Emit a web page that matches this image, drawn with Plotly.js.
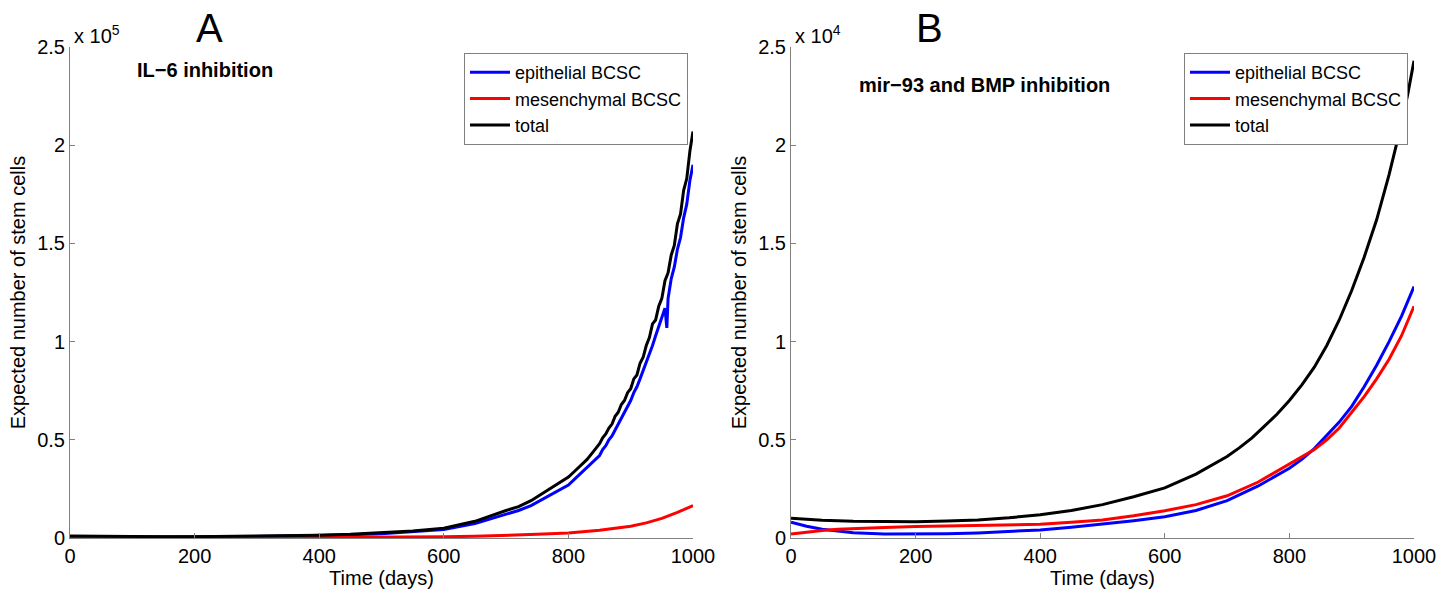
<!DOCTYPE html>
<html>
<head>
<meta charset="utf-8">
<script src="https://cdn.plot.ly/plotly-3.0.1.min.js"></script>
<style>html,body{margin:0;padding:0;background:#fff;}#chart{width:1455px;height:592px;}</style>
</head>
<body>
<div id="chart"></div>
<script>
// ---- Panel A: IL-6 inhibition (values in units of 1e5 cells) ----
const daysA_total = [0,50,100,150,200,250,300,350,400,450,500,550,600,650,700,720,740,760,780,800,810,820,830,840,850,855,860,865,870,875,880,885,890,895,900,905,910,915,920,925,930,935,940,945,950,955,960,965,970,975,980,985,990,995,1000];
const totalA = [0.010,0.008,0.007,0.007,0.007,0.008,0.009,0.011,0.014,0.019,0.026,0.036,0.050,0.085,0.14,0.16,0.19,0.23,0.27,0.31,0.34,0.37,0.40,0.44,0.48,0.51,0.53,0.56,0.58,0.62,0.64,0.68,0.70,0.74,0.76,0.81,0.83,0.89,0.92,0.98,1.02,1.09,1.11,1.18,1.22,1.31,1.35,1.44,1.49,1.60,1.65,1.77,1.83,1.97,2.07];
const daysA_epi = [0,50,100,150,200,250,300,350,400,450,500,550,600,650,700,720,740,760,780,800,810,820,830,840,850,855,860,865,870,875,880,885,890,895,900,905,910,915,920,925,930,935,940,945,950,955,958,960,965,970,975,980,985,990,995,1000];
const epiA = [0.008,0.006,0.006,0.006,0.006,0.007,0.008,0.010,0.012,0.016,0.022,0.031,0.043,0.074,0.12,0.14,0.165,0.20,0.235,0.27,0.30,0.33,0.355,0.39,0.42,0.45,0.47,0.50,0.52,0.55,0.58,0.61,0.64,0.67,0.70,0.74,0.77,0.81,0.85,0.89,0.94,0.98,1.03,1.08,1.12,1.17,1.07,1.22,1.32,1.38,1.47,1.53,1.63,1.70,1.82,1.90];
const daysA_mes = [0,100,200,300,400,500,600,650,700,750,800,850,900,925,950,975,1000];
const mesA = [0.002,0.001,0.001,0.001,0.002,0.003,0.006,0.009,0.013,0.019,0.026,0.040,0.060,0.077,0.100,0.130,0.165];

// ---- Panel B: mir-93 and BMP inhibition (values in units of 1e4 cells) ----
const daysB_total = [0,25,50,100,150,200,250,300,350,400,450,500,550,600,650,700,720,740,760,780,800,820,840,860,880,900,920,940,960,970,980,990,1000];
const totalB = [0.100,0.095,0.090,0.085,0.083,0.083,0.086,0.092,0.103,0.118,0.140,0.170,0.210,0.255,0.325,0.415,0.46,0.51,0.57,0.63,0.70,0.78,0.87,0.98,1.11,1.26,1.43,1.62,1.85,1.98,2.11,2.26,2.43];
const daysB_pop = [0,25,50,75,100,150,200,250,300,350,400,450,500,550,600,650,700,750,800,820,840,860,880,900,920,940,960,980,1000];
const epiB = [0.080,0.060,0.045,0.035,0.027,0.020,0.020,0.022,0.026,0.032,0.041,0.055,0.070,0.088,0.108,0.140,0.190,0.265,0.355,0.40,0.455,0.52,0.59,0.67,0.77,0.88,1.00,1.13,1.28];
const mesB = [0.020,0.030,0.038,0.044,0.048,0.054,0.058,0.061,0.064,0.067,0.070,0.080,0.092,0.113,0.139,0.170,0.215,0.285,0.375,0.41,0.45,0.50,0.56,0.64,0.72,0.81,0.91,1.03,1.18];

const seriesNames = ['epithelial BCSC','mesenchymal BCSC','total'];
const seriesColors = ['#0000ff','#ff0000','#000000'];
const xTicks = [0,200,400,600,800,1000];
const yTicks = [0,0.5,1,1.5,2,2.5];
const yTickText = ['0','0.5','1','1.5','2','2.5'];

const FONT = 'Liberation Sans, Arial, Helvetica, sans-serif';
const LW = 3;

function tr(x, y, i, xa, ya, lg) {
  return {x: x, y: y, type: 'scatter', mode: 'lines', name: seriesNames[i],
    line: {color: seriesColors[i], width: LW}, xaxis: xa, yaxis: ya, legend: lg,
    hoverinfo: 'skip'};
}

const data = [
  tr(daysA_epi, epiA, 0, 'x', 'y', 'legend'),
  tr(daysA_mes, mesA, 1, 'x', 'y', 'legend'),
  tr(daysA_total, totalA, 2, 'x', 'y', 'legend'),
  tr(daysB_pop, epiB, 0, 'x2', 'y2', 'legend2'),
  tr(daysB_pop, mesB, 1, 'x2', 'y2', 'legend2'),
  tr(daysB_total, totalB, 2, 'x2', 'y2', 'legend2')
];

const W = 1455, H = 592;
function xaxisCfg(d0, d1, anchor) {
  return {domain: [d0 / W, d1 / W], anchor: anchor, range: [0, 1000], tickvals: xTicks,
    ticktext: xTicks.map(String), ticks: 'inside', ticklen: 5, tickcolor: '#808080',
    showline: true, linecolor: '#808080', linewidth: 1, showgrid: false, zeroline: false,
    tickfont: {family: FONT, size: 20, color: '#000'},
    title: {text: 'Time (days)', font: {family: FONT, size: 20, color: '#000'}, standoff: 2},
    automargin: false, fixedrange: true};
}
function yaxisCfg(anchor) {
  return {domain: [1 - 538 / H, 1 - 47 / H], anchor: anchor, range: [0, 2.5], tickvals: yTicks,
    ticktext: yTickText, ticks: 'inside', ticklen: 5, tickcolor: '#808080',
    showline: true, linecolor: '#808080', linewidth: 1, showgrid: false, zeroline: false,
    tickfont: {family: FONT, size: 20, color: '#000'},
    title: {text: 'Expected number of stem cells', font: {family: FONT, size: 20, color: '#000'}, standoff: 6},
    automargin: false, fixedrange: true};
}

function legendCfg(xr) {
  return {x: xr / W, y: 1 - 53 / H, xanchor: 'right', yanchor: 'top', bgcolor: '#fff',
    bordercolor: '#808080', borderwidth: 1, font: {family: FONT, size: 18, color: '#000'},
    itemwidth: 40, tracegroupgap: 0};
}

function ann(text, xpx, ypx, size, opts) {
  return Object.assign({text: text, xref: 'paper', yref: 'paper', x: xpx / W, y: 1 - ypx / H,
    showarrow: false, font: {family: FONT, size: size, color: '#000'}, xanchor: 'center', yanchor: 'middle'}, opts || {});
}

const layout = {
  width: W, height: H,
  margin: {l: 0, r: 0, t: 0, b: 0},
  paper_bgcolor: '#fff', plot_bgcolor: '#fff',
  showlegend: true,
  xaxis: xaxisCfg(70, 693, 'y'),
  yaxis: yaxisCfg('x'),
  xaxis2: xaxisCfg(791, 1414, 'y2'),
  yaxis2: yaxisCfg('x2'),
  legend: legendCfg(688),
  legend2: legendCfg(1408),
  annotations: [
    ann('x 10<sup>5</sup>', 72, 35, 20, {xanchor: 'left'}),
    ann('A', 210, 28, 40),
    ann('<b>IL−6 inhibition</b>', 205, 70, 20),
    ann('x 10<sup>4</sup>', 793, 35, 20, {xanchor: 'left'}),
    ann('B', 930, 28, 40),
    ann('<b>mir−93 and BMP inhibition</b>', 984, 85, 20)
  ]
};

Plotly.newPlot('chart', data, layout, {staticPlot: true, displayModeBar: false});
</script>
</body>
</html>
